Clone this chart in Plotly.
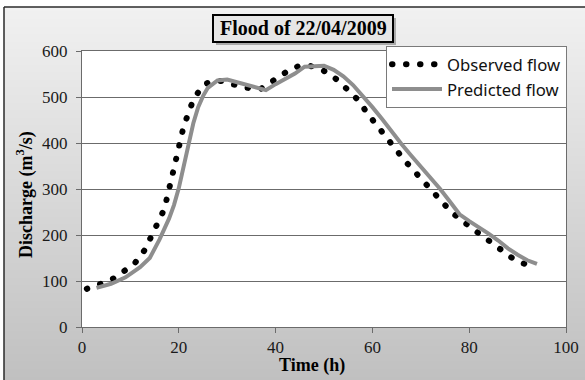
import plotly.graph_objects as go

# ---------------- data ----------------
obs_time = [1, 3, 5, 7, 9, 11, 13, 15, 17, 19, 21, 23, 25, 27, 29, 31, 33, 35, 37, 39,
            41, 43, 45, 47, 49, 51, 53, 55, 57, 59, 61, 63, 65, 67, 69, 71, 73, 75, 77,
            79, 81, 83, 85, 87, 89, 91, 92]
obs_flow = [83, 89, 98, 108, 123, 140, 168, 209, 256, 345, 436, 494, 526, 535, 535, 528,
            522, 518, 518, 531, 546, 560, 568, 568, 562, 551, 535, 516, 494, 464, 436, 412,
            384, 358, 334, 311, 289, 265, 244, 226, 211, 196, 181, 164, 149, 139, 135]

pred_time = [3, 6, 9, 12, 14, 16, 18, 19, 20, 21, 22, 23, 24, 25, 26, 28, 30, 32, 34, 36,
             38, 40, 42, 44, 46, 48, 50, 52, 54, 56, 58, 60, 62, 64, 66, 68, 70, 72, 74,
             76, 78, 80, 82, 84, 86, 88, 90, 92, 94]
pred_flow = [85, 94, 108, 130, 150, 190, 236, 265, 302, 347, 393, 443, 478, 502, 520, 536,
             538, 532, 526, 521, 515, 528, 540, 551, 566, 568, 568, 559, 545, 526, 503, 478,
             452, 424, 398, 373, 349, 325, 300, 273, 245, 230, 217, 203, 188, 171, 157, 145,
             137]

series_names = ["Observed flow", "Predicted flow"]
chart_title = "Flood of 22/04/2009"
x_title = "Time (h)"
y_title = "Discharge (m<sup>3</sup>/s)"

W, H = 585, 380

# plot area in pixels
L, R, T, B = 82, 566, 51, 327
px = lambda x: x / W
py = lambda y: 1 - y / H

fig = go.Figure()

# background gradient of the chart area (own hidden axes, drawn below the plot)
fig.add_trace(go.Heatmap(
    x=[0, 1], y=[0, 1], z=[[0, 0], [1, 1]], zsmooth="best",
    colorscale=[[0, "#c0c0c0"], [1, "#f1f1f1"]], showscale=False,
    hoverinfo="skip", xaxis="x", yaxis="y",
))

fig.add_trace(go.Scatter(
    x=obs_time, y=obs_flow, mode="lines", name=series_names[0],
    line=dict(color="black", width=6, dash="0.5px,13.5px"),
    xaxis="x2", yaxis="y2",
))
fig.add_trace(go.Scatter(
    x=pred_time, y=pred_flow, mode="lines", name=series_names[1],
    line=dict(color="#8e8e8e", width=4),
    xaxis="x2", yaxis="y2",
))

serif = "Liberation Serif, Times New Roman, serif"
fig.update_layout(
    width=W, height=H,
    margin=dict(l=0, r=0, t=0, b=0),
    paper_bgcolor="#fefefe",
    plot_bgcolor="#ffffff",
    showlegend=True,
    legend=dict(
        x=px(567), y=py(46), xanchor="right", yanchor="top",
        bgcolor="white", bordercolor="#7a7a7a", borderwidth=1,
        font=dict(family="Noto Sans, sans-serif", size=16.7, color="#111"),
        itemwidth=50, tracegroupgap=0,
    ),
    xaxis=dict(domain=[px(4), 1], range=[0, 1], visible=False, fixedrange=True),
    yaxis=dict(domain=[0, py(7)], range=[0, 1], visible=False, fixedrange=True),
    xaxis2=dict(
        domain=[px(L), px(R)], range=[0, 100], dtick=20, tick0=0, anchor="y2",
        showgrid=False, zeroline=False,
        showline=True, linecolor="#6b6b6b", linewidth=1, mirror=True,
        ticks="outside", ticklen=5, tickcolor="#6b6b6b",
        tickfont=dict(family=serif, size=17, color="#1a1a1a"),
        automargin=False, fixedrange=True,
    ),
    yaxis2=dict(
        domain=[py(B), py(T)], range=[0, 600], dtick=100, tick0=0, anchor="x2",
        showgrid=True, gridcolor="#6b6b6b", gridwidth=1, zeroline=False,
        showline=True, linecolor="#6b6b6b", linewidth=1, mirror=True,
        ticks="outside", ticklen=5, tickcolor="#6b6b6b",
        tickfont=dict(family=serif, size=17, color="#1a1a1a"),
        ticklabelstandoff=5,
        automargin=False, fixedrange=True,
    ),
    shapes=[
        # outer chart frame (left and top edges)
        dict(type="line", xref="paper", yref="paper", x0=px(4), x1=px(4), y0=0, y1=py(7),
             line=dict(color="#2a2a2a", width=1.5)),
        dict(type="line", xref="paper", yref="paper", x0=px(4), x1=1, y0=py(7), y1=py(7),
             line=dict(color="#2a2a2a", width=1.5)),
        # title box shadow
        dict(type="rect", xref="paper", yref="paper", x0=px(216), x1=px(396), y0=py(45), y1=py(18),
             line=dict(width=0), fillcolor="rgba(90,90,90,0.45)"),
        # title box
        dict(type="rect", xref="paper", yref="paper", x0=px(213), x1=px(393), y0=py(42), y1=py(15),
             line=dict(color="black", width=2), fillcolor="#e6e6e6"),
    ],
    annotations=[
        dict(text="<b>%s</b>" % chart_title, xref="paper", yref="paper",
             x=px(303), y=py(28.5), xanchor="center", yanchor="middle", showarrow=False,
             font=dict(family=serif, size=20, color="black")),
        dict(text="<b>%s</b>" % x_title, xref="paper", yref="paper",
             x=px(312), y=py(365), xanchor="center", yanchor="middle", showarrow=False,
             font=dict(family=serif, size=18, color="black")),
        dict(text="<b>%s</b>" % y_title, xref="paper", yref="paper", textangle=-90,
             x=px(25), y=py(195), xanchor="center", yanchor="middle", showarrow=False,
             font=dict(family=serif, size=18, color="black")),
    ],
)

post = """
document.body.style.margin = '0';
document.body.style.padding = '0';
var gd = document.getElementById('{plot_id}');
gd.querySelectorAll('path').forEach(function(p){
  var d = p.style.strokeDasharray;
  if (d && d !== 'none') { p.style.strokeLinecap = 'round'; }
});
"""
fig.write_html("out.html", post_script=post, config={"displayModeBar": False})
